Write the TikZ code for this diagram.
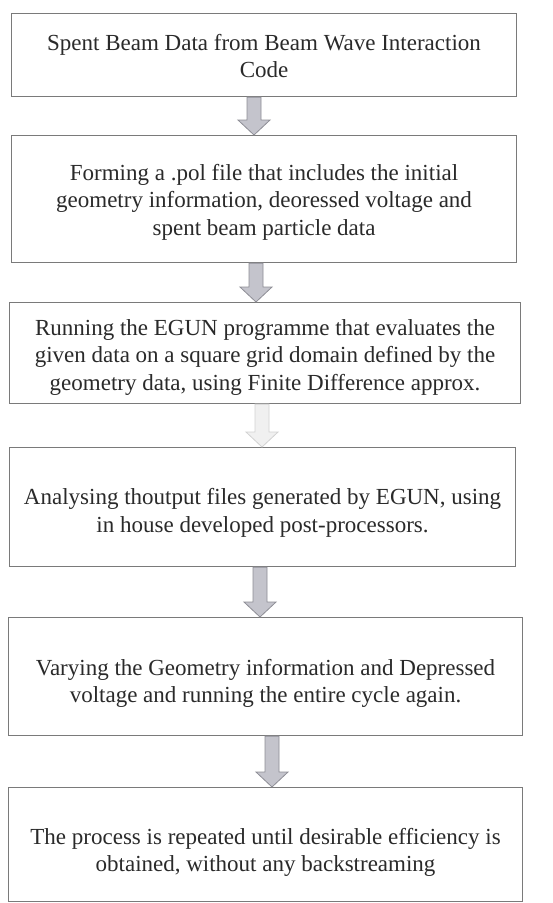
\documentclass[tikz,border=0pt]{standalone}
\usepackage{fontspec}
\setmainfont{Liberation Serif}
\usetikzlibrary{calc}
\definecolor{txt}{HTML}{2A2A2A}
\definecolor{boxline}{HTML}{7A7A7A}
\definecolor{arrfill}{HTML}{C4C4CC}
\definecolor{arrline}{HTML}{8E8E96}
\tikzset{
  stepbox/.style={draw=boxline, line width=1.1pt, anchor=north west, inner sep=0pt},
  steptext/.style={align=center, text=txt, inner sep=0pt, font=\fontsize{23}{27.5}\selectfont},
  blockarr/.style={fill=arrfill, draw=arrline, line width=0.8pt, line join=miter},
  fadedarr/.style={fill=gray!12, draw=gray!35, line width=0.8pt, line join=miter}
}
\newcommand\blockarrow[4]{%
  \draw[#4] let \p1=(#1.south), \p2=(#2.north) in
    ({#3pt-7pt},\y1) -- ({#3pt+7pt},\y1) -- ({#3pt+7pt},\y2+15pt) -- ({#3pt+16pt},\y2+15pt)
    -- ({#3pt},\y2) -- ({#3pt-16pt},\y2+15pt) -- ({#3pt-7pt},\y2+15pt) -- cycle;}
\begin{document}
\begin{tikzpicture}[x=1pt,y=-1pt]
\useasboundingbox[fill=white] (0,0) rectangle (553,903);
\node[stepbox, minimum width=505pt, minimum height=83pt] (b1) at (11,13) {};
\node[stepbox, minimum width=505pt, minimum height=127pt] (b2) at (11,135) {};
\node[stepbox, minimum width=511pt, minimum height=101pt] (b3) at (9,302) {};
\node[stepbox, minimum width=506pt, minimum height=119pt] (b4) at (9,447) {};
\node[stepbox, minimum width=514pt, minimum height=118pt] (b5) at (8,617) {};
\node[stepbox, minimum width=514pt, minimum height=114pt] (b6) at (8,787) {};
\node[steptext] (t1) at ($(b1.center)+(0,1)$)
  {Spent Beam Data from Beam Wave Interaction\\Code};
\node[steptext] (t2) at ($(b2.center)+(0,3)$)
  {Forming a .pol file that includes the initial\\geometry information, deoressed voltage and\\spent beam particle data};
\node[steptext] (t3) at ($(b3.center)+(0,4)$)
  {Running the EGUN programme that evaluates the\\given data on a square grid domain defined by the\\geometry data, using Finite Difference approx.};
\node[steptext] (t4) at ($(b4.center)+(0,6)$)
  {Analysing thoutput files generated by EGUN, using\\in house developed post-processors.};
\node[steptext] (t5) at ($(b5.center)+(0,7)$)
  {Varying the Geometry information and Depressed\\voltage and running the entire cycle again.};
\node[steptext] (t6) at ($(b6.center)+(0,8)$)
  {The process is repeated until desirable efficiency is\\obtained, without any backstreaming};
\blockarrow{b1}{b2}{254}{blockarr}
\blockarrow{b2}{b3}{256}{blockarr}
\blockarrow{b3}{b4}{262}{fadedarr}
\blockarrow{b4}{b5}{260}{blockarr}
\blockarrow{b5}{b6}{272}{blockarr}
\end{tikzpicture}
\end{document}
